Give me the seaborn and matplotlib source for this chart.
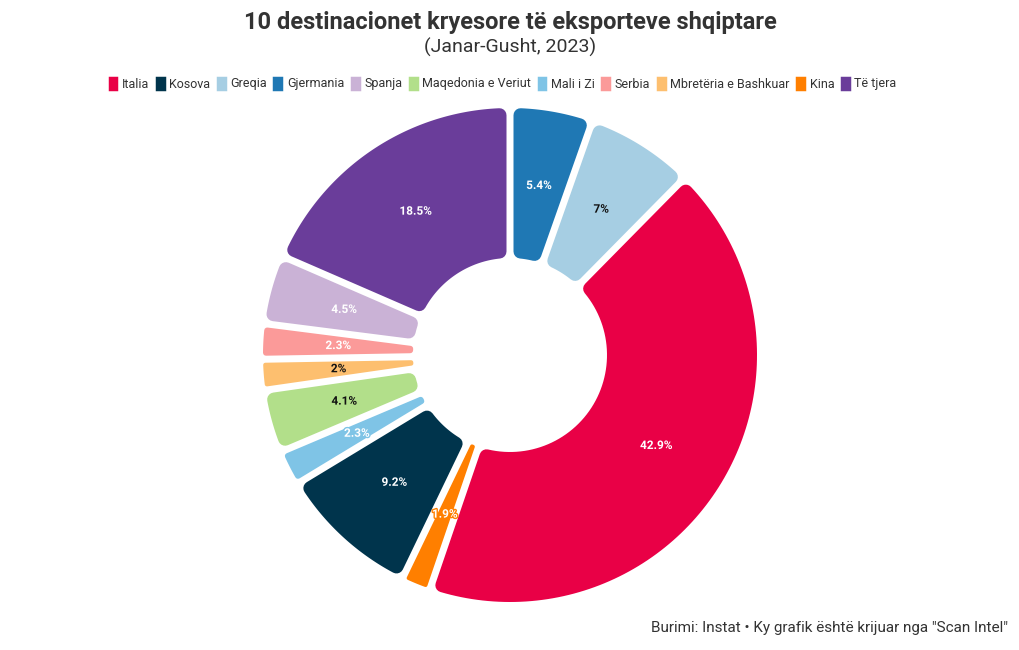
import numpy as np
import matplotlib
matplotlib.use('Agg')
import matplotlib.pyplot as plt
import seaborn as sns
from matplotlib.patches import Polygon, Patch
import matplotlib.patheffects as pe

# ---------------- data ----------------
countries = ['Gjermania', 'Greqia', 'Italia', 'Kina', 'Kosova', 'Mali i Zi',
             'Maqedonia e Veriut', 'Mbretëria e Bashkuar', 'Serbia', 'Spanja', 'Të tjera']
shares = [5.4, 7.0, 42.9, 1.9, 9.2, 2.3, 4.1, 2.0, 2.3, 4.5, 18.5]
share_labels = ['5.4%', '7%', '42.9%', '1.9%', '9.2%', '2.3%', '4.1%', '2%', '2.3%', '4.5%', '18.5%']
legend_order = ['Italia', 'Kosova', 'Greqia', 'Gjermania', 'Spanja', 'Maqedonia e Veriut',
                'Mali i Zi', 'Serbia', 'Mbretëria e Bashkuar', 'Kina', 'Të tjera']
palette = {
    'Italia': '#E90046', 'Kosova': '#00344C', 'Greqia': '#A6CEE3', 'Gjermania': '#1F78B4',
    'Spanja': '#CAB2D6', 'Maqedonia e Veriut': '#B2DF8A', 'Mali i Zi': '#7FC4E6',
    'Serbia': '#FB9A99', 'Mbretëria e Bashkuar': '#FDBF6F', 'Kina': '#FF7F00',
    'Të tjera': '#6A3D9A',
}
dark_text = {'Greqia', 'Maqedonia e Veriut', 'Mbretëria e Bashkuar'}

title = '10 destinacionet kryesore të eksporteve shqiptare'
subtitle = '(Janar-Gusht, 2023)'
footer = 'Burimi: Instat • Ky grafik është krijuar nga "Scan Intel"'

# ---------------- style ----------------
sns.set_theme(style='white')
plt.rcParams['font.family'] = ['Roboto', 'DejaVu Sans']
TXT = '#333333'

W, H = 1020, 650
fig = plt.figure(figsize=(W / 100, H / 100), dpi=100)
fig.patch.set_facecolor('white')

cx, cy = 510, 355          # pixel centre
PX = 247.0                 # pixels per data unit (outer radius)
half = 262
ax = fig.add_axes([(cx - half) / W, (H - cy - half) / H, 2 * half / W, 2 * half / H])

gap = 7.0 / PX
rc0 = 7.0 / PX
r_out = 1.0 + gap / 2
r_in = 97.0 / PX - gap / 2

wedges, _ = ax.pie(shares, startangle=90, counterclock=False, radius=r_out,
                   colors=[palette[c] for c in countries],
                   wedgeprops=dict(width=r_out - r_in))

for w, name, lab in zip(wedges, countries, share_labels):
    t1, t2 = np.radians(w.theta1), np.radians(w.theta2)
    R = w.r
    ri0 = R - w.width
    span = t2 - t1
    avail = ri0 * np.sin(span / 2) - gap / 2
    rc = max(min(rc0, 0.9 * avail), 0.5 / PX)
    s = gap / 2 + rc
    Ro = R - s
    Ri = ri0 + s
    a1, a2 = t1 + np.arcsin(s / Ro), t2 - np.arcsin(s / Ro)
    outer = np.linspace(a1, a2, 120)
    pts = [(Ro * np.cos(a), Ro * np.sin(a)) for a in outer]
    b1, b2 = t1 + np.arcsin(min(s / Ri, 1)), t2 - np.arcsin(min(s / Ri, 1))
    if b1 < b2:
        inner = np.linspace(b2, b1, 60)
        pts += [(Ri * np.cos(a), Ri * np.sin(a)) for a in inner]
    else:
        d = s / np.sin(span / 2)
        m = (t1 + t2) / 2
        pts.append((d * np.cos(m), d * np.sin(m)))
    col = palette[name]
    lw = 2 * rc * PX * 0.72
    poly = Polygon(pts, closed=True, facecolor=col, edgecolor=col, linewidth=lw,
                   joinstyle='round')
    w.set_visible(False)
    ax.add_patch(poly)

    mid = (t1 + t2) / 2
    rl = (1.0 + 97.0 / PX) / 2
    tc = '#111111' if name in dark_text else 'white'
    ax.text(rl * np.cos(mid), rl * np.sin(mid), lab, ha='center', va='center',
            fontsize=8.5, color=tc, fontweight='semibold',
            path_effects=[pe.withStroke(linewidth=2, foreground=col)])

lim = half / PX
ax.set_xlim(-lim, lim)
ax.set_ylim(-lim, lim)
ax.set_aspect('equal')
ax.axis('off')

# ---------------- texts ----------------
fig.text(0.5, 1 - 22 / H, title, ha='center', va='center', fontsize=17,
         fontweight='bold', color=TXT)
fig.text(0.5, 1 - 47 / H, subtitle, ha='center', va='center', fontsize=14, color=TXT)
fig.text(1008 / W, 1 - 628 / H, footer, ha='right', va='center', fontsize=11, color=TXT)

handles = [Patch(facecolor=palette[n], edgecolor=palette[n], linewidth=2.5,
                 joinstyle='round') for n in legend_order]
fig.legend(handles, legend_order, loc='center', bbox_to_anchor=(503 / W, 1 - 84 / H),
           ncol=len(legend_order), frameon=False, fontsize=9, handlelength=0.55,
           handleheight=0.95, handletextpad=0.45, columnspacing=0.6,
           labelcolor=TXT, borderaxespad=0)

fig.savefig('out.png', dpi=100, facecolor='white')
